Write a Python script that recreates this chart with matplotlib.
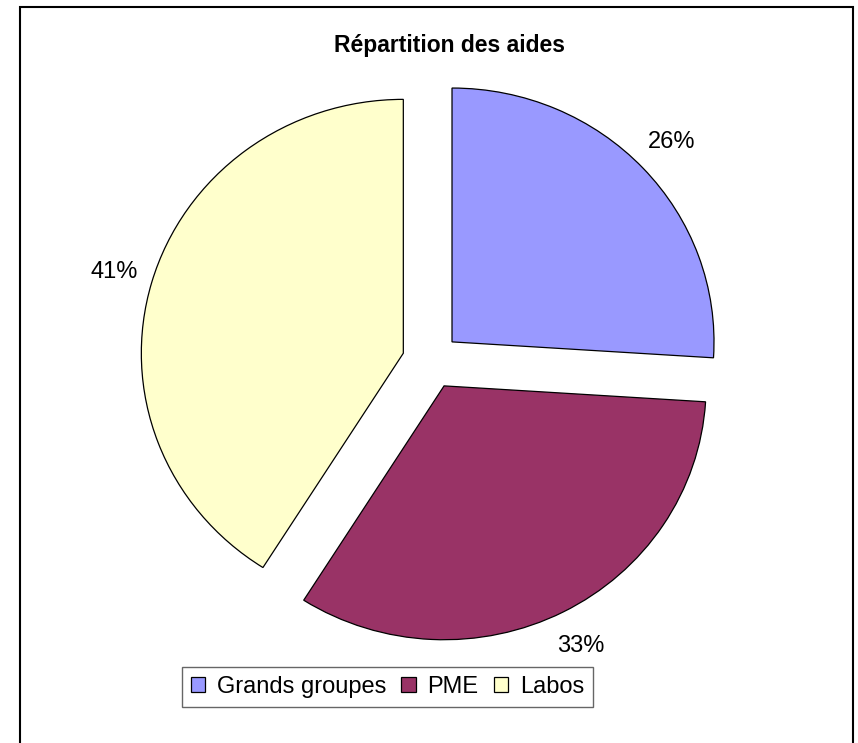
import matplotlib.pyplot as plt
import matplotlib.patches as patches

plt.rcParams['font.family'] = ['Liberation Sans', 'DejaVu Sans']

# Data
labels = ["Grands groupes", "PME", "Labos"]
shares = [26, 33, 41]
colors = ["#9999FF", "#993366", "#FFFFCC"]
explode = [0.11, 0.11, 0.11]

fig = plt.figure(figsize=(8.58, 7.43), dpi=100)

# outer frame of the chart area (bottom edge off-image)
frame = patches.Rectangle((20 / 858, -0.01), 833 / 858, 1 - 7 / 743 + 0.01,
                          transform=fig.transFigure, fill=False,
                          edgecolor="black", linewidth=1.5, clip_on=False)
fig.patches.append(frame)

# axes placed so the pie is slightly wider than tall, as in the original
ax = fig.add_axes([38 / 858, 52 / 743, 786 / 858, 660 / 743])
wedges, texts, autotexts = ax.pie(
    shares, colors=colors, explode=explode, startangle=90, counterclock=False,
    autopct="%d%%", pctdistance=1.15,
    wedgeprops=dict(edgecolor="black", linewidth=0.9),
    textprops=dict(fontsize=17, color="black"),
)
ax.set_aspect("auto")
ax.set_xlim(-1.5, 1.5)
ax.set_ylim(-1.3, 1.3)
ax.axis("off")

fig.text(0.524, 0.939, "Répartition des aides", ha="center", va="center",
         fontsize=16.5, fontweight="bold")

leg = fig.legend(wedges, labels, loc="center", bbox_to_anchor=(0.4516, 0.0754),
                 ncol=3, fontsize=17, frameon=True, fancybox=False,
                 handlelength=0.6, handleheight=0.6, handletextpad=0.5,
                 columnspacing=0.65, borderpad=0.38, borderaxespad=0)
leg.get_frame().set_edgecolor("#404040")
leg.get_frame().set_linewidth(1.0)

fig.savefig("out.png", dpi=100)
